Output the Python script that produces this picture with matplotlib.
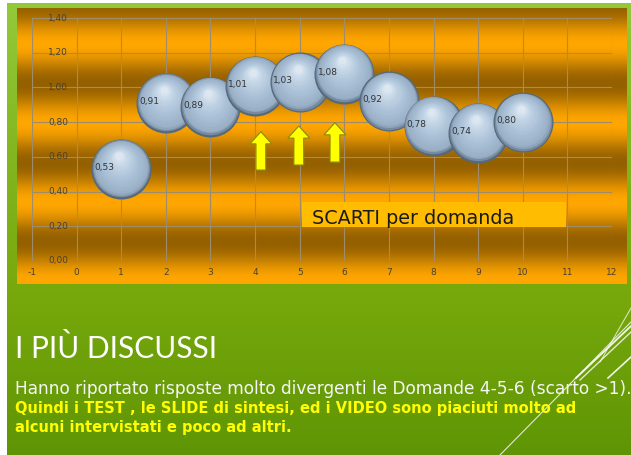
import numpy as np
import matplotlib
matplotlib.use("Agg")
import matplotlib.pyplot as plt
from matplotlib.patches import Rectangle, FancyArrow
from matplotlib.transforms import offset_copy
from matplotlib.colors import to_rgb

# dati del grafico: scarti per domanda
domande = [1, 2, 3, 4, 5, 6, 7, 8, 9, 10]
scarti = [0.53, 0.91, 0.89, 1.01, 1.03, 1.08, 0.92, 0.78, 0.74, 0.80]
etichette = ["0,53", "0,91", "0,89", "1,01", "1,03", "1,08", "0,92", "0,78", "0,74", "0,80"]
x_ticks = list(range(-1, 13))
y_ticks = [0.0, 0.2, 0.4, 0.6, 0.8, 1.0, 1.2, 1.4]
y_tick_labels = ["0,00", "0,20", "0,40", "0,60", "0,80", "1,00", "1,20", "1,40"]

# frecce gialle sulle domande 4-5-6 (x, base, punta)
frecce_x = [4.13, 4.98, 5.79]
frecce_base = [0.524, 0.553, 0.570]
frecce_punta = [0.745, 0.778, 0.797]

titolo_box = "SCARTI per domanda"
titolo = "I PIÙ DISCUSSI"
riga1 = "Hanno riportato risposte molto divergenti le Domande 4-5-6 (scarto >1)."
riga2 = "Quindi i TEST , le SLIDE di sintesi, ed i VIDEO sono piaciuti molto ad"
riga3 = "alcuni intervistati e poco ad altri."

W, H = 631, 455
fig = plt.figure(figsize=(W / 100, H / 100), dpi=100)
renderer = fig.canvas.get_renderer()


def fit_text(t, target_px):
    # adatta la dimensione del font alla larghezza voluta
    for _ in range(3):
        w = t.get_window_extent(renderer=renderer).width
        t.set_fontsize(t.get_fontsize() * target_px / w)


def gradient(stops_y, stops_c, ys):
    cols = np.array([to_rgb(c) for c in stops_c])
    return np.stack([np.interp(ys, stops_y, cols[:, k]) for k in range(3)], axis=-1)


# ---- sfondo della slide (coordinate in pixel, y verso il basso)
bg = fig.add_axes([0, 0, 1, 1])
bg.set_xlim(0, W)
bg.set_ylim(H, 0)
bg.axis("off")

ys = np.arange(H) + 0.5
green = gradient([0, 150, 290, 455], ["#94ca3a", "#82b720", "#78a90c", "#5f9505"], ys)
img = np.repeat(green[:, None, :], 8, axis=1)
bg.imshow(img, extent=(7, W, H, 3), aspect="auto", interpolation="bilinear", zorder=0)

# cornice arancione a bande
yb = np.arange(8, 284) + 0.5
t = 0.5 + 0.5 * np.cos(2 * np.pi * (yb - 44) / 79)
bright = np.array(to_rgb("#ffa600"))
dark = np.array(to_rgb("#946000"))
band = dark + (bright - dark) * t[:, None]
band_img = np.repeat(band[:, None, :], 8, axis=1)
bg.imshow(band_img, extent=(17, 627, 284, 8), aspect="auto", interpolation="bilinear", zorder=1)

# linee decorative bianche
bg.plot([500, 631], [455, 322], color="white", lw=0.8, alpha=0.8, zorder=2)
bg.plot([576, 631], [378, 326], color="white", lw=1.3, alpha=0.9, zorder=2)
bg.plot([580, 631], [380, 332], color="white", lw=1.0, alpha=0.8, zorder=2)
bg.plot([608, 631], [378, 357], color="white", lw=1.2, alpha=0.9, zorder=2)
bg.plot([600, 631], [362, 308], color="white", lw=0.8, alpha=0.7, zorder=2)

# testi in basso
tt = bg.text(15, 358, titolo, color="white", family="Lato", fontweight="normal",
             fontsize=22, va="baseline", ha="left", zorder=3)
fit_text(tt, 202)
t1 = bg.text(15, 394, riga1, color="#f6f6f6", family="DejaVu Sans", fontsize=11,
             va="baseline", ha="left", zorder=3)
fit_text(t1, 614)
t2 = bg.text(15, 413, riga2, color="#ffff00", family="DejaVu Sans", fontweight="bold",
             fontsize=11, va="baseline", ha="left", zorder=3)
fit_text(t2, 562)
bg.text(15, 432, riga3, color="#ffff00", family="DejaVu Sans", fontweight="bold",
        fontsize=t2.get_fontsize(), va="baseline", ha="left", zorder=3)

# ---- grafico
ax = fig.add_axes([32 / W, (H - 261) / H, 580 / W, 243 / H])
ax.patch.set_alpha(0)
ax.set_xlim(-1, 12)
ax.set_ylim(0, 1.4)
for s in ax.spines.values():
    s.set_visible(False)
ax.set_xticks(x_ticks)
ax.set_xticklabels([str(v) for v in x_ticks])
ax.set_yticks(y_ticks)
ax.set_yticklabels([])
ax.tick_params(length=0, pad=5, labelsize=6.5, labelcolor="#4a4030")
ax.grid(True, color="#a08c68", lw=0.8)
ax.set_axisbelow(True)
for v, lab in zip(y_ticks, y_tick_labels):
    ax.text(-0.19, v, lab, ha="right", va="center", fontsize=6.5, color="#4a4030")

# bolle con sfumatura sferica
R = 21.6  # raggio in punti
stop_f = [0.0, 0.1, 0.3, 0.6, 0.9, 0.95, 1.0]
stop_c = ["#f2f7fc", "#dfe9f3", "#c3d5e6", "#a9c0d6", "#98aec4", "#7d92a7", "#56697c"]
cols = np.array([to_rgb(c) for c in stop_c])
n_layers = 22
for i, (xv, yv, lab) in enumerate(zip(domande, scarti, etichette)):
    z = 10 + i * 2
    for k in range(n_layers):
        f = 1 - k / n_layers * 0.92
        c = [np.interp(f, stop_f, cols[:, j]) for j in range(3)]
        dx = (1 - f) * (-0.08 * R)
        dy = (1 - f) * (0.5 * R)
        tr = offset_copy(ax.transData, fig=fig, x=dx, y=dy, units="points")
        ax.scatter([xv], [yv], s=(2 * R * f) ** 2, color=[c], linewidths=0,
                   transform=tr, zorder=z)
    ax.annotate(lab, (xv, yv), xytext=(-12, 1), textcoords="offset points",
                ha="center", va="center", fontsize=6.5, color="#333333", zorder=z + 1)

# frecce
for xa, y0, y1 in zip(frecce_x, frecce_base, frecce_punta):
    ax.add_patch(FancyArrow(xa, y0, 0, y1 - y0, width=0.22, head_width=0.49,
                            head_length=0.07, length_includes_head=True,
                            facecolor="#ffff00", edgecolor="#8a8a10", lw=0.8, zorder=40))

# riquadro titolo
ax.add_patch(Rectangle((5.05, 0.196), 5.91, 0.144, facecolor="#ffbc00",
                       edgecolor="none", zorder=5))
tb = ax.text(5.27, 0.213, titolo_box, ha="left", va="baseline", fontsize=12.5,
             color="#1a1a1a", family="DejaVu Sans", zorder=6)
fit_text(tb, 202)

fig.savefig("out.png", dpi=100)
